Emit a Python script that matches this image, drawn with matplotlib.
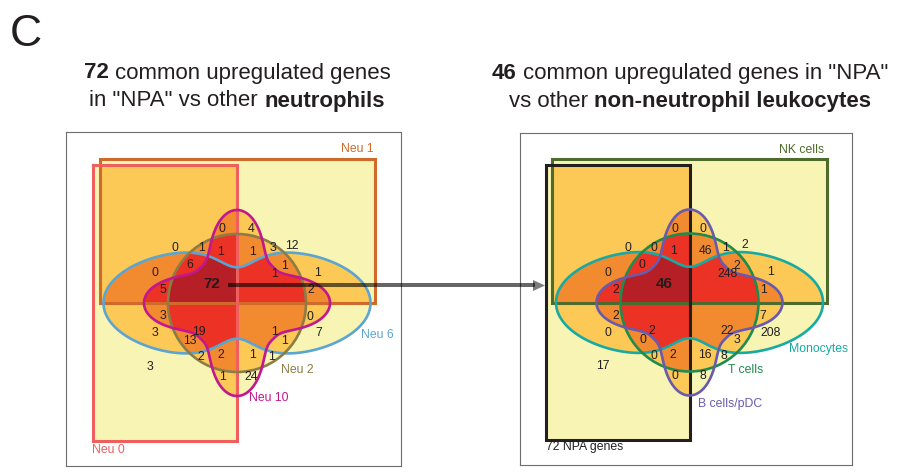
#!/usr/bin/env python3

# two 5-set Venn diagrams (Edwards style) of upregulated genes

import numpy as np
import matplotlib
matplotlib.use('Agg')
import matplotlib.pyplot as plt
from matplotlib.colors import ListedColormap
from matplotlib.patches import Rectangle, Circle, Polygon
from matplotlib.lines import Line2D

plt.rcParams['font.family'] = ['Liberation Sans', 'DejaVu Sans']

W, H = 907, 473

# gene counts per region, same region order in both panels
neu_counts = [0, 4, 0, 1, 1, 1, 3, 12, 6, 0, 5, 72, 1, 1, 1, 2,
              3, 3, 19, 13, 2, 2, 1, 1, 0, 7, 1, 1, 3, 1, 24]
leuko_counts = [0, 0, 0, 0, 1, 46, 1, 2, 0, 0, 2, 46, 2, 248, 1, 1,
                2, 0, 2, 0, 0, 2, 16, 8, 7, 208, 22, 3, 17, 0, 8]

# set names: vertical rect, horizontal rect, circle, ellipse, 4-lobe curve
neu_sets = ['Neu 0', 'Neu 1', 'Neu 2', 'Neu 6', 'Neu 10']
leuko_sets = ['72 NPA genes', 'NK cells', 'T cells', 'Monocytes', 'B cells/pDC']

# label position of each region, relative to the diagram centre (px, y down)
region_xy = [(-14.7, -74), (13.7, -74), (-62, -54.7), (-36, -54.7), (-16.3, -51.3),
             (15.7, -51.3), (35.7, -54.7), (55.3, -57.3), (-47.7, -38), (-82, -29.7),
             (-73.7, -13), (-25.3, -19), (47.3, -37), (38, -29), (80.7, -30.3),
             (73.7, -13), (-73.7, 13), (-82, 30.3), (-38, 28.7), (-47, 37.7),
             (-36, 53.7), (-16.3, 52), (15.7, 52), (34.7, 53.7), (73, 13.7),
             (81.3, 30.3), (38, 28.7), (47, 37.7), (-87, 63.7), (-14.7, 73.7),
             (13.7, 73.7)]
BIG = 11  # index of the all-sets region

fill_colors = ['#f8f4b4', '#fcc856', '#f28a30', '#ec3125', '#b51f25']
txt_color = '#231f20'

neu_style = {'colors': ['#ef5f5e', '#d06a2a', '#8b7d45', '#5ba5d2', '#c2188f'],
             'label_xy': [(-129, 147), (120.5, -154.5), (60.5, 67), (140.5, 32), (31.7, 95)]}
leuko_style = {'colors': ['#231f20', '#4f6b2b', '#1e8c4e', '#17aaa4', '#6a5aab'],
               'label_xy': [(-104.5, 144.5), (112.5, -152.5), (56, 67.5), (128.8, 46.5), (40.5, 101.5)]}

# shape geometry
RV = (-144, 0, -138, 137.5)     # x0, x1, y0, y1
RH = (-137.5, 137.5, -144, 0)
RC = 69
EA = 133.5


def ellipse_half(x):
    t = np.clip(1 - (x / EA) ** 2, 0, None)
    dent = 25.4 * (1 / (1 + (x / 29) ** 2) - 1 / (1 + (EA / 29) ** 2))
    return 60 * np.sqrt(t) - dent


def lobe_r(th):
    return 51 + 42 * ((1 + np.cos(4 * th)) / 2) ** 1.4


def members(x, y):
    r = np.hypot(x, y)
    th = np.arctan2(y, x)
    return [(x >= RV[0]) & (x <= RV[1]) & (y >= RV[2]) & (y <= RV[3]),
            (x >= RH[0]) & (x <= RH[1]) & (y >= RH[2]) & (y <= RH[3]),
            r <= RC,
            (np.abs(x) <= EA) & (np.abs(y) <= np.maximum(ellipse_half(x), 0)),
            r <= lobe_r(th)]


def draw_panel(ax, counts, names, style, xlim, ylim):
    g = np.arange(-150, 150, 0.5) + 0.25
    X, Y = np.meshgrid(g, g)
    n = sum(m.astype(int) for m in members(X, Y))
    ax.imshow(np.ma.masked_equal(n, 0), cmap=ListedColormap(fill_colors),
              vmin=0.5, vmax=5.5, extent=(-150, 150, 150, -150),
              origin='upper', interpolation='nearest', zorder=1)
    c = style['colors']
    ax.add_patch(Rectangle((RH[0], RH[2]), RH[1] - RH[0], RH[3] - RH[2],
                           fill=False, ec=c[1], lw=2.2, zorder=2))
    ax.add_patch(Rectangle((RV[0], RV[2]), RV[1] - RV[0], RV[3] - RV[2],
                           fill=False, ec=c[0], lw=2.2, zorder=3))
    t = np.linspace(0, np.pi, 400)
    ex = -EA * np.cos(t)
    ey = np.maximum(ellipse_half(ex), 0)
    ax.add_patch(Polygon(np.column_stack([np.r_[ex, ex[::-1]], np.r_[-ey, ey[::-1]]]),
                         closed=True, fill=False, ec=c[3], lw=1.9, zorder=4))
    ax.add_patch(Circle((0, 0), RC, fill=False, ec=c[2], lw=1.9, zorder=5))
    th = np.linspace(0, 2 * np.pi, 800)
    rr = lobe_r(th)
    ax.add_patch(Polygon(np.column_stack([rr * np.cos(th), rr * np.sin(th)]),
                         closed=True, fill=False, ec=c[4], lw=1.9, zorder=6))

    for i, (v, (x, y)) in enumerate(zip(counts, region_xy)):
        if i == BIG:
            ax.text(x, y, str(v), ha='center', va='center', fontsize=11,
                    fontweight='bold', color='#2a1a1a', zorder=7)
        else:
            ax.text(x, y, str(v), ha='center', va='center', fontsize=8.8,
                    color=txt_color, zorder=7)
    for name, col, (x, y) in zip(names, c, style['label_xy']):
        ax.text(x, y, name, ha='center', va='center', fontsize=8.8,
                color=col, zorder=7)

    ax.set_xlim(*xlim)
    ax.set_ylim(*ylim)
    ax.set_aspect('auto')
    ax.set_xticks([])
    ax.set_yticks([])
    for s in ax.spines.values():
        s.set_color('#6d6d6d')
        s.set_linewidth(0.8)


def fx(x, y):
    return x / W, 1 - y / H


def rich_line(fig, xc, yb, parts, size):
    r = fig.canvas.get_renderer()

    def width(s, weight):
        t = fig.text(0, 0, s, fontsize=size, fontweight=weight)
        w = t.get_window_extent(r).width
        t.remove()
        return w
    sp = width('x x', 'normal') - width('xx', 'normal')
    ws = [width(s, w) for s, w in parts]
    x = xc - (sum(ws) + sp * (len(parts) - 1)) / 2
    for (s, w), wd in zip(parts, ws):
        fig.text(*fx(x, yb), s, fontsize=size, fontweight=w, va='baseline',
                 ha='left', color=txt_color)
        x += wd + sp


fig = plt.figure(figsize=(W / 100, H / 100), dpi=100)

ax1 = fig.add_axes([66 / W, (H - 466) / H, 335 / W, 334 / H])
draw_panel(ax1, neu_counts, neu_sets, neu_style, (-171, 164), (163, -171))
ax2 = fig.add_axes([520 / W, (H - 465) / H, 332 / W, 332 / H])
draw_panel(ax2, leuko_counts, leuko_sets, leuko_style, (-169.5, 162.5), (162.5, -169.5))

fig.text(*fx(10, 46.5), 'C', fontsize=32, color=txt_color, va='baseline', ha='left')

TS = 16
rich_line(fig, 237, 78.5, [('72', 'bold'), ('common upregulated genes', 'normal')], TS)
rich_line(fig, 237, 106.5, [('in "NPA" vs other', 'normal'), ('neutrophils', 'bold')], TS)
rich_line(fig, 690, 79, [('46', 'bold'), ('common upregulated genes in "NPA"', 'normal')], TS)
rich_line(fig, 690, 107, [('vs other', 'normal'), ('non-neutrophil leukocytes', 'bold')], TS)

# arrow from the left core to the right diagram
x0, y0 = fx(228, 285.5)
x1, _ = fx(535, 285.5)
fig.add_artist(Line2D([x0, x1], [y0, y0], color='black', alpha=0.6, lw=2.9,
                      solid_capstyle='butt', transform=fig.transFigure))
fig.add_artist(Polygon([fx(533, 280), fx(545, 285.5), fx(533, 291)], closed=True,
                       fc='#7c7c7c', ec='none', transform=fig.transFigure))

fig.savefig('out.png', dpi=100)
